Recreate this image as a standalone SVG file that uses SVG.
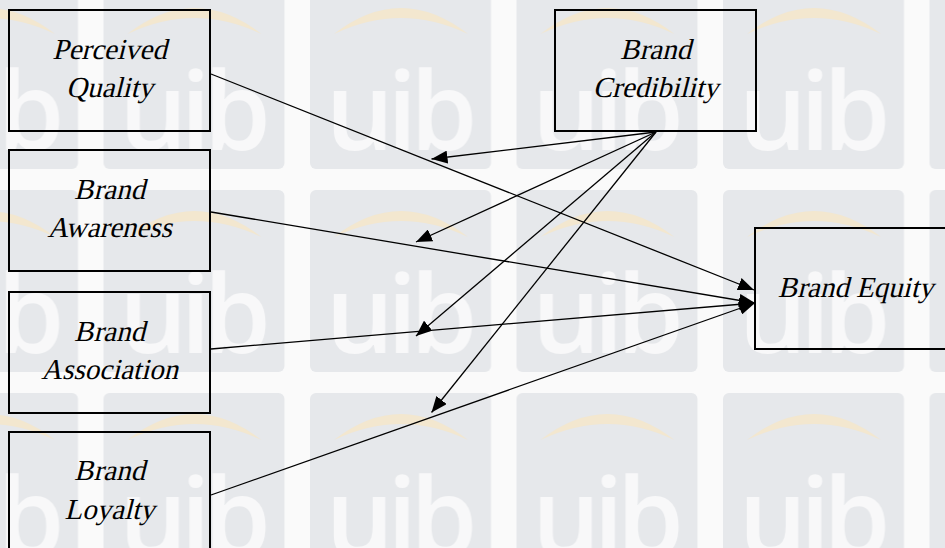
<svg xmlns="http://www.w3.org/2000/svg" width="945" height="548" viewBox="0 0 945 548">
  <style>
    .box { fill: none; stroke: #000; stroke-width: 2; }
    .conn { fill: none; stroke: #000; stroke-width: 1.3; }
    .wm-text { font-family: 'Open Sans', 'DejaVu Sans', sans-serif; font-weight: 600; font-size: 108px; fill: #f8f8f9; text-anchor: middle; letter-spacing: -7px; }
    /* slanted serif labels */
    .label { font-family: 'Liberation Serif', 'Times New Roman', serif; font-style: normal; font-size: 29px; fill: #000; text-anchor: middle; }
  </style>
  <defs>
    <marker id="arrow" markerUnits="userSpaceOnUse" markerWidth="16" markerHeight="13" refX="16" refY="6.5" orient="auto">
      <path d="M0,0 L16,6.5 L0,13 z" fill="#000"/>
    </marker>
    <!-- background watermark tile -->
    <pattern id="wm" patternUnits="userSpaceOnUse" x="103.5" y="-13" width="206.5" height="203">
      <rect x="0" y="0" width="181" height="182" rx="6" fill="#e6e8eb"/>
      <path d="M24,47 Q91,-5 158,47 Q91,15 24,47 z" fill="#f3e7cf"/>
      <text class="wm-text" x="88" y="163">uib</text>
    </pattern>
  </defs>

  <rect x="0" y="0" width="945" height="548" fill="#fafafa"/>
  <rect x="0" y="0" width="945" height="548" fill="url(#wm)"/>

  <g id="connectors">
    <!-- drivers into Brand Equity -->
    <line class="conn" x1="211" y1="74" x2="754" y2="290" marker-end="url(#arrow)"/>
    <line class="conn" x1="211" y1="212" x2="755" y2="303" marker-end="url(#arrow)"/>
    <line class="conn" x1="211" y1="349" x2="755" y2="303" marker-end="url(#arrow)"/>
    <line class="conn" x1="211" y1="495" x2="755" y2="303" marker-end="url(#arrow)"/>
    <!-- moderating links from Brand Credibility -->
    <line class="conn" x1="656" y1="132" x2="431.5" y2="159" marker-end="url(#arrow)"/>
    <line class="conn" x1="656" y1="132" x2="416" y2="242" marker-end="url(#arrow)"/>
    <line class="conn" x1="656" y1="132" x2="416" y2="336" marker-end="url(#arrow)"/>
    <line class="conn" x1="656" y1="132" x2="431.5" y2="412.5" marker-end="url(#arrow)"/>
  </g>

  <g id="perceived-quality">
    <rect class="box" x="9" y="10" width="201" height="121"/>
    <text class="label" transform="translate(109.5 59) skewX(-14)">Perceived</text>
    <text class="label" transform="translate(109.5 97) skewX(-14)">Quality</text>
  </g>

  <g id="brand-awareness">
    <rect class="box" x="9" y="150" width="201" height="121"/>
    <text class="label" transform="translate(109.5 199) skewX(-14)">Brand</text>
    <text class="label" transform="translate(109.5 237) skewX(-14)">Awareness</text>
  </g>

  <g id="brand-association">
    <rect class="box" x="9" y="292" width="201" height="121"/>
    <text class="label" transform="translate(109.5 341) skewX(-14)">Brand</text>
    <text class="label" transform="translate(109.5 379) skewX(-14)">Association</text>
  </g>

  <g id="brand-loyalty">
    <rect class="box" x="9" y="432" width="201" height="121"/>
    <text class="label" transform="translate(109.5 480) skewX(-14)">Brand</text>
    <text class="label" transform="translate(109.5 519) skewX(-14)">Loyalty</text>
  </g>

  <g id="brand-credibility">
    <rect class="box" x="555" y="10" width="201" height="121"/>
    <text class="label" transform="translate(655.5 59) skewX(-14)">Brand</text>
    <text class="label" transform="translate(655.5 97) skewX(-14)">Credibility</text>
  </g>

  <g id="brand-equity">
    <rect class="box" x="755" y="228" width="201" height="121"/>
    <text class="label" transform="translate(855.5 297) skewX(-14)">Brand Equity</text>
  </g>
</svg>
